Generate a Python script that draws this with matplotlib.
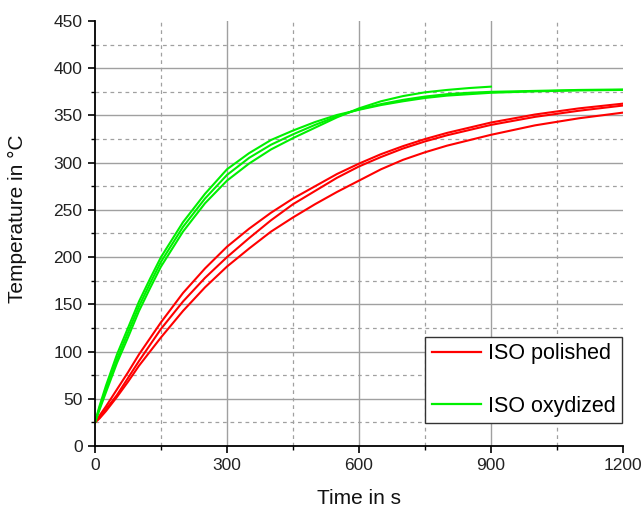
import matplotlib
matplotlib.use("Agg")
import matplotlib.pyplot as plt

plt.rcParams['font.family'] = ['Liberation Sans', 'DejaVu Sans']

# ---- data ----
t_red = [0, 10, 25, 50, 75, 100, 150, 200, 250, 300, 350, 400, 450, 500, 550,
         600, 650, 700, 750, 800, 900, 1000, 1100, 1200]
red_1 = [25, 32, 42, 60, 78, 97, 131, 162, 188, 211, 230, 247, 262, 275, 288,
         299, 309, 317.5, 325, 331.5, 342.5, 351, 357.5, 362.5]
red_2 = [25, 30, 39, 54, 72, 90, 124, 153, 178, 200, 220, 239, 256, 270, 284,
         296, 306, 315, 322.5, 329, 340, 348.5, 355, 360.5]
red_3 = [25, 29, 37, 52, 68, 85, 115, 143, 168, 190, 209, 227, 242, 256, 269,
         281, 293, 303, 311, 318, 329.5, 339.5, 347, 353]

t_green = [0, 10, 25, 50, 75, 100, 125, 150, 200, 250, 300, 350, 400, 450, 500,
           550, 600, 650, 700, 750, 800, 850, 900, 1000, 1100, 1200]
green_2 = [25, 40, 60, 92, 120, 148, 172, 195, 232, 262, 287, 305, 319, 330, 340,
           349, 356.5, 362, 366.5, 370, 372.5, 374, 375, 376, 377, 377.5]
green_3 = [25, 42, 64, 97, 125, 153, 177, 200, 237, 267, 293, 310, 324, 334, 343,
           350.5, 356, 361, 365, 368.5, 371, 372.5, 374, 375.5, 376.5, 377]
t_green_1 = [0, 10, 25, 50, 75, 100, 125, 150, 200, 250, 300, 350, 400, 450, 500,
             550, 600, 650, 700, 750, 800, 850, 900]
green_1 = [25, 38, 57, 88, 115, 143, 167, 190, 227, 257, 281, 299, 314, 326, 337,
           348, 357.5, 365, 370.5, 374.5, 377, 379, 380.5]

x_major = [0, 300, 600, 900, 1200]
x_minor = [150, 450, 750, 1050]
y_major = [0, 50, 100, 150, 200, 250, 300, 350, 400, 450]
y_minor = [25, 75, 125, 175, 225, 275, 325, 375, 425]

legend_labels = ["ISO polished", "ISO oxydized"]

# ---- figure ----
fig = plt.figure(figsize=(6.44, 5.09), dpi=100)
ax = fig.add_axes([95/644, 1-446/509, (623-95)/644, (446-21)/509])

xmin, xmax = x_major[0], x_major[-1]
ymin, ymax = y_major[0], y_major[-1]
ax.set_xlim(xmin, xmax)
ax.set_ylim(ymin, ymax)

# grid (interior only)
gcol = '#a0a0a0'
for v in x_major:
    if xmin < v < xmax:
        ax.axvline(v, color=gcol, lw=1.0, zorder=0)
for v in x_minor:
    ax.axvline(v, color=gcol, lw=0.9, ls=(0, (3, 3)), zorder=0)
for v in y_major:
    if ymin < v < ymax:
        ax.axhline(v, color=gcol, lw=1.0, zorder=0)
for v in y_minor:
    ax.axhline(v, color=gcol, lw=0.9, ls=(0, (3, 3)), zorder=0)

red = '#ff0000'
green = '#00f000'
lw = 1.5
ax.plot(t_red, red_1, color=red, lw=lw, label=legend_labels[0])
ax.plot(t_red, red_2, color=red, lw=lw)
ax.plot(t_red, red_3, color=red, lw=lw)
ax.plot(t_green, green_2, color=green, lw=lw, label=legend_labels[1])
ax.plot(t_green, green_3, color=green, lw=lw)
ax.plot(t_green_1, green_1, color=green, lw=lw)

ax.set_xticks(x_major)
ax.set_xticks(x_minor, minor=True)
ax.set_yticks(y_major)
ax.set_yticks(y_minor, minor=True)

for s in ['top', 'right']:
    ax.spines[s].set_visible(False)
for s in ['left', 'bottom']:
    ax.spines[s].set_linewidth(1.3)
    ax.spines[s].set_color('black')

ax.tick_params(which='major', direction='out', length=5, width=1.2,
               labelsize=12.5, pad=4, colors='black')
ax.tick_params(which='minor', direction='out', length=3, width=1.0)
for lab in ax.get_xticklabels() + ax.get_yticklabels():
    lab.set_color('#222222')

ax.set_xlabel("Time in s", fontsize=15, labelpad=11, color='#111111')
ax.set_ylabel("Temperature in °C", fontsize=15, color='#111111')
ax.yaxis.set_label_coords(-0.128, 0.535)

leg = ax.legend(loc='lower right', bbox_to_anchor=(622/644, (509-423)/509),
                bbox_transform=fig.transFigure, borderaxespad=0,
                fontsize=15.5, frameon=True, fancybox=False, shadow=False,
                handlelength=2.3, handletextpad=0.3, labelspacing=1.45,
                borderpad=0.3)
leg.get_frame().set_edgecolor('#333333')
leg.get_frame().set_linewidth(1.0)
leg.get_frame().set_alpha(1.0)
for l in leg.get_lines():
    l.set_linewidth(1.6)

fig.savefig("out.png", dpi=100)
